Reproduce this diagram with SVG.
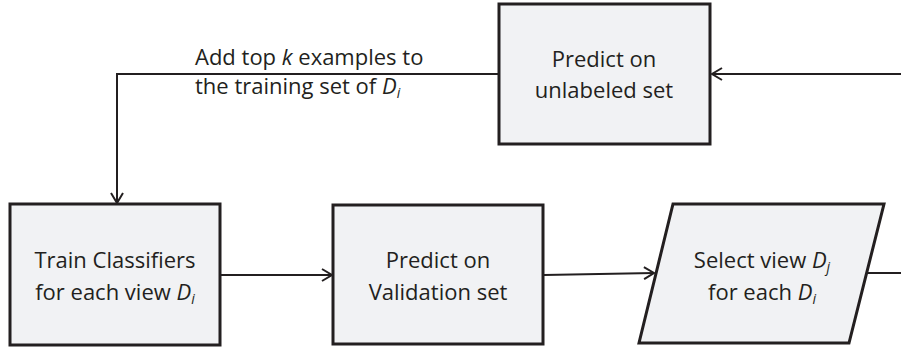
<svg xmlns="http://www.w3.org/2000/svg" width="901" height="349" viewBox="0 0 901 349">
<defs>
<marker id="arr" markerWidth="14" markerHeight="14" refX="11" refY="7" orient="auto" markerUnits="userSpaceOnUse">
<path d="M1,1 L11,7 L1,13" fill="none" stroke="#231f20" stroke-width="2"/>
</marker>
<style>
.box{fill:#f1f2f4;stroke:#231f20;stroke-width:3}
.ln{fill:none;stroke:#231f20;stroke-width:2}
text{font-family:"Open Sans","Liberation Sans",sans-serif;font-size:22px;fill:#231f20}
.c{text-anchor:middle}
.sub{font-size:14px;font-style:italic}
</style>
</defs>
<g id="connectors">
<path class="ln" d="M901,74 L712,74" marker-end="url(#arr)"/>
<path class="ln" d="M498,74 L117,74 L117,203" marker-end="url(#arr)"/>
<path class="ln" d="M221,275 L332,275" marker-end="url(#arr)"/>
<path class="ln" d="M544,275 L654,273" marker-end="url(#arr)"/>
<path class="ln" d="M867,273 L901,273"/>
</g>
<g id="label">
<text x="195" y="65">Add top <tspan font-style="italic">k</tspan> examples to</text>
<text x="195" y="94">the training set of <tspan font-style="italic">D</tspan><tspan class="sub" dy="4">i</tspan></text>
</g>
<g id="predict-unlabeled">
<rect class="box" x="499" y="4" width="211" height="140"/>
<text class="c" x="604" y="67">Predict on</text>
<text class="c" x="604" y="98">unlabeled set</text>
</g>
<g id="train">
<rect class="box" x="10" y="204" width="210" height="141"/>
<text class="c" x="115" y="268">Train Classifiers</text>
<text class="c" x="115" y="300">for each view <tspan font-style="italic">D</tspan><tspan class="sub" dy="4">i</tspan></text>
</g>
<g id="predict-validation">
<rect class="box" x="333" y="205" width="210" height="139"/>
<text class="c" x="438" y="268">Predict on</text>
<text class="c" x="438" y="300">Validation set</text>
</g>
<g id="select">
<polygon class="box" points="673,204 884,204 849,343 639,343"/>
<text class="c" x="762" y="268">Select view <tspan font-style="italic">D</tspan><tspan class="sub" dy="4">j</tspan></text>
<text class="c" x="762" y="300">for each <tspan font-style="italic">D</tspan><tspan class="sub" dy="4">i</tspan></text>
</g>
</svg>
